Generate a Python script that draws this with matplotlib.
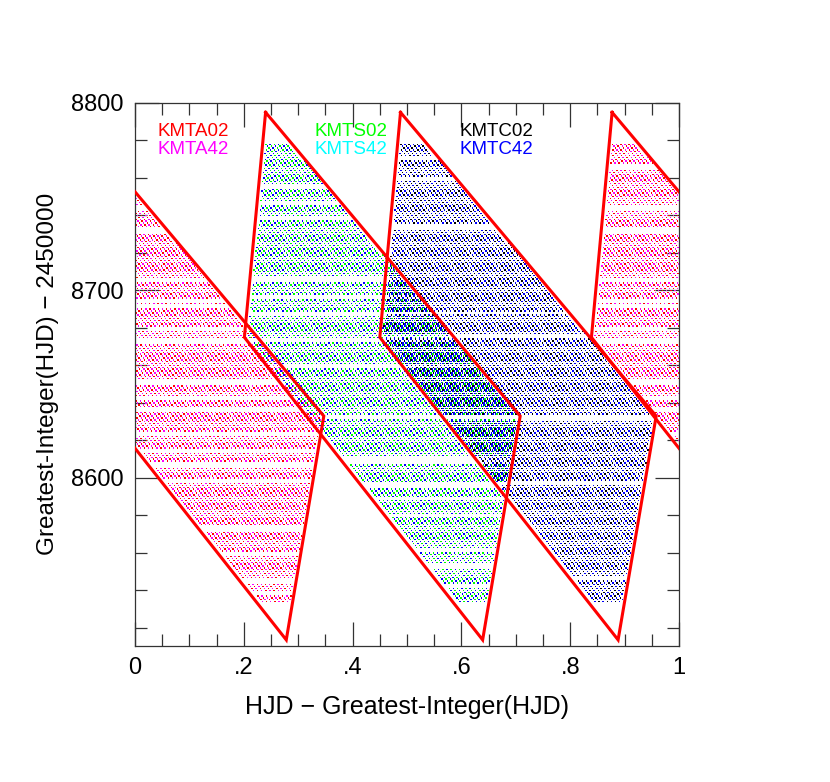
import numpy as np
import matplotlib
matplotlib.use("Agg")
import matplotlib.pyplot as plt

plt.rcParams["font.family"] = ["Liberation Sans", "DejaVu Sans"]

# --- data --------------------------------------------------------------
# visibility windows (red outlines): top, right, bottom, left vertices
POLY_Y = [8795.0, 8633.0, 8513.6, 8675.0]
KMTA_POLY_X = [0.877, 1.347, 1.278, 0.839]   # wraps past 1.0
KMTS_POLY_X = [0.240, 0.708, 0.639, 0.201]
KMTC_POLY_X = [0.488, 0.958, 0.888, 0.450]

FIRST_NIGHT = 8534
LAST_NIGHT = 8778
CADENCE = 0.0076      # days between exposures (02/42 alternating)
SIDEREAL_DRIFT = 1 / 365.25   # schedule slides this much earlier each night

# nights lost to weather, (first, last) inclusive
KMTA_GAPS = [(8765, 8767), (8743, 8745), (8731, 8733), (8705, 8706),
             (8691, 8692), (8694, 8695), (8672, 8674), (8679, 8680),
             (8650, 8652), (8642, 8643), (8636, 8637), (8623, 8624),
             (8614, 8615), (8606, 8608), (8598, 8599), (8572, 8574),
             (8559, 8560), (8544, 8546), (8538, 8539)]
KMTS_GAPS = [(8755, 8756), (8746, 8747), (8738, 8739), (8705, 8707),
             (8696, 8697), (8687, 8688), (8673, 8674), (8659, 8660),
             (8632, 8633), (8608, 8611), (8595, 8597), (8589, 8589),
             (8580, 8580), (8561, 8562), (8552, 8554), (8542, 8543)]
KMTC_GAPS = [(8770, 8771), (8759, 8760), (8733, 8735), (8688, 8688),
             (8675, 8676), (8631, 8633), (8597, 8598), (8546, 8547)]

OBS = [
    ("KMTA", KMTA_POLY_X, KMTA_GAPS, "#ff0000", "#ff00ff"),
    ("KMTS", KMTS_POLY_X, KMTS_GAPS, "#00ff00", "#0000ff"),
    ("KMTC", KMTC_POLY_X, KMTC_GAPS, "#000000", "#0000ff"),
]

LEGEND = [
    ("KMTA02", "#ff0000", 0.042, 0.948), ("KMTA42", "#ff00ff", 0.042, 0.915),
    ("KMTS02", "#00ff00", 0.330, 0.948), ("KMTS42", "#00ffff", 0.330, 0.915),
    ("KMTC02", "#000000", 0.597, 0.948), ("KMTC42", "#0000ff", 0.597, 0.915),
]


def span(px, py, d):
    """x range of the polygon on the horizontal line y = d."""
    xs = []
    n = len(px)
    for i in range(n):
        x1, y1 = px[i], py[i]
        x2, y2 = px[(i + 1) % n], py[(i + 1) % n]
        if min(y1, y2) <= d <= max(y1, y2) and y1 != y2:
            xs.append(x1 + (d - y1) * (x2 - x1) / (y2 - y1))
    return min(xs), max(xs)


def night_points(px, gaps):
    xs, ys, parity = [], [], []
    for d in range(FIRST_NIGHT, LAST_NIGHT + 1):
        if any(a <= d <= b for a, b in gaps):
            continue
        lo, hi = span(px, POLY_Y, d)
        lo, hi = lo + 0.006, hi - 0.004
        phase = px[0] - (d - FIRST_NIGHT) * SIDEREAL_DRIFT
        k = np.arange(np.ceil((lo - phase) / CADENCE),
                      np.floor((hi - phase) / CADENCE) + 1)
        t = phase + k * CADENCE
        xs.append(t)
        ys.append(np.full(t.size, d))
        parity.append((k.astype(int) + d) % 2)
    return np.concatenate(xs) % 1.0, np.concatenate(ys), np.concatenate(parity)


fig = plt.figure(figsize=(8.3, 7.82), dpi=100)
ax = fig.add_axes([0.1627, 0.1743, 0.6554, 0.694])

for name, px, gaps, c02, c42 in OBS:
    x, y, p = night_points(px, gaps)
    cols = np.where(p == 0, c02, c42)
    ax.scatter(x, y, s=1.05, c=cols, marker="s", linewidths=0, zorder=2)

for name, px, gaps, c02, c42 in OBS:
    for shift in (0.0, -1.0):
        xx = np.array(px + px[:1]) + shift
        yy = POLY_Y + POLY_Y[:1]
        ax.plot(xx, yy, color="#ff0000", lw=2.2, zorder=3,
                solid_joinstyle="miter")

for label, color, tx, ty in LEGEND:
    ax.text(tx, ty, label, color=color, fontsize=13.5, transform=ax.transAxes,
            va="center", ha="left")

ax.set_xlim(0, 1)
ax.set_ylim(8510.5, 8800)
ax.set_xticks([0, 0.2, 0.4, 0.6, 0.8, 1.0])
ax.set_xticklabels(["0", ".2", ".4", ".6", ".8", "1"])
ax.set_xticks(np.arange(0, 1.001, 0.05), minor=True)
ax.set_yticks([8600, 8700, 8800])
ax.set_yticks(np.arange(8520, 8801, 20), minor=True)
ax.tick_params(which="both", direction="in", top=True, right=True,
               labelsize=17, width=0.9, color="#333333")
ax.tick_params(which="major", length=17, pad=8)
ax.tick_params(which="minor", length=8.5)
for s in ax.spines.values():
    s.set_linewidth(0.9)
    s.set_color("#333333")

ax.set_xlabel("HJD \u2212 Greatest-Integer(HJD)", fontsize=18, labelpad=12)
ax.set_ylabel("Greatest-Integer(HJD) \u2212 2450000", fontsize=17.5, labelpad=9)

fig.savefig("out.png", dpi=100)
